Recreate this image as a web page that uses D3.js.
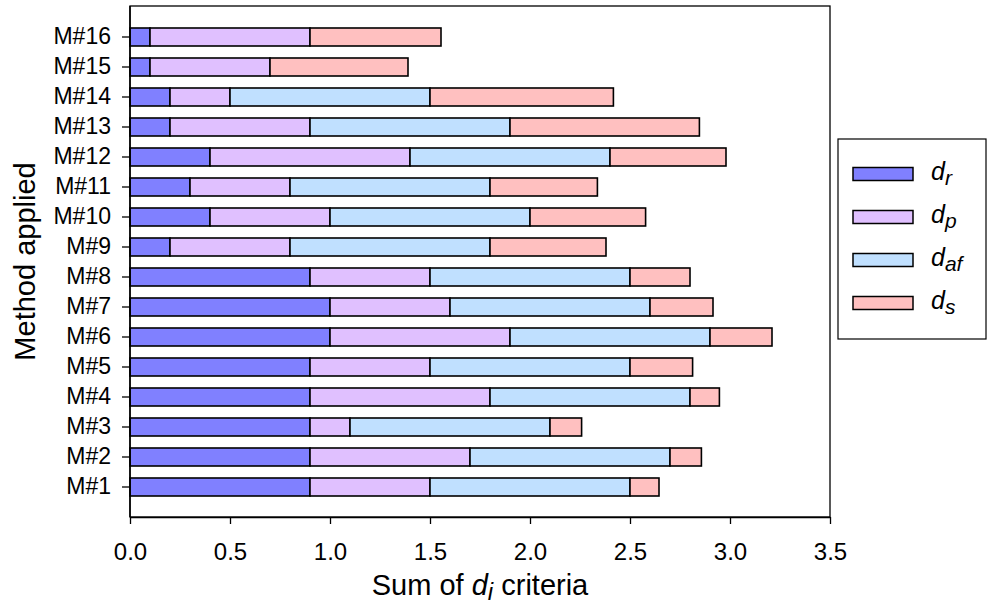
<!DOCTYPE html>
<html>
<head>
<meta charset="utf-8">
<script src="https://cdn.jsdelivr.net/npm/d3@7"></script>
<style>
  body { margin: 0; background: #fff; }
  text { font-family: "Liberation Sans", Arial, sans-serif; fill: #000; }
</style>
</head>
<body>
<div class="chart"></div>
<script>
// methods, bottom to top as in the picture
var methods = ["M#1","M#2","M#3","M#4","M#5","M#6","M#7","M#8",
               "M#9","M#10","M#11","M#12","M#13","M#14","M#15","M#16"];

var dr  = [0.9, 0.9, 0.9, 0.9, 0.9, 1.0, 1.0, 0.9, 0.2, 0.4, 0.3, 0.4, 0.2, 0.2, 0.1, 0.1];
var dp  = [0.6, 0.8, 0.2, 0.9, 0.6, 0.9, 0.6, 0.6, 0.6, 0.6, 0.5, 1.0, 0.7, 0.3, 0.6, 0.8];
var daf = [1.0, 1.0, 1.0, 1.0, 1.0, 1.0, 1.0, 1.0, 1.0, 1.0, 1.0, 1.0, 1.0, 1.0, 0.0, 0.0];
var ds  = [0.145, 0.157, 0.158, 0.147, 0.313, 0.31, 0.315, 0.3, 0.58, 0.578, 0.537, 0.58, 0.947, 0.917, 0.69, 0.655];

var seriesKeys = ["dr", "dp", "daf", "ds"];
var seriesSub  = ["r", "p", "af", "s"];
var xTicks = [0, 0.5, 1.0, 1.5, 2.0, 2.5, 3.0, 3.5];

var color = ["#8080FF", "#E0C0FF", "#C0E0FF", "#FFC0C0"];

var width = 987, height = 605;
var plotL = 130, plotR = 830, plotT = 6, plotB = 517;

var rows = methods.map(function(m, i) {
  return { name: m, dr: dr[i], dp: dp[i], daf: daf[i], ds: ds[i] };
});

var svg = d3.select(".chart").append("svg")
  .attr("width", width)
  .attr("height", height);

var x = d3.scaleLinear().domain([0, 3.5]).range([plotL, plotR]);
var y = d3.scaleBand().domain(methods.slice().reverse())
  .range([plotT + 16, plotB - 15]).paddingInner(0.4).paddingOuter(0.2);

var stack = d3.stack().keys(seriesKeys)(rows);

var layer = svg.selectAll("g.layer")
  .data(stack)
  .enter().append("g")
    .attr("class", "layer")
    .attr("fill", function(d, i) { return color[i]; });

layer.selectAll("rect")
  .data(function(d) { return d.filter(function(p) { return p[1] - p[0] > 0; }); })
  .enter().append("rect")
    .attr("x", function(d) { return x(d[0]); })
    .attr("y", function(d) { return y(d.data.name); })
    .attr("width", function(d) { return x(d[1]) - x(d[0]); })
    .attr("height", y.bandwidth())
    .attr("stroke", "#000")
    .attr("stroke-width", 1.6);

// frame
svg.append("rect")
  .attr("x", plotL).attr("y", plotT)
  .attr("width", plotR - plotL).attr("height", plotB - plotT)
  .attr("fill", "none").attr("stroke", "#000").attr("stroke-width", 1.3);

// x axis
var xAxis = svg.append("g")
  .attr("transform", "translate(0," + plotB + ")")
  .call(d3.axisBottom(x).tickValues(xTicks).tickSize(7).tickSizeOuter(0).tickPadding(19)
        .tickFormat(d3.format(".1f")));
xAxis.select(".domain").attr("stroke-width", 1.5);
xAxis.selectAll(".tick line").attr("stroke-width", 1.3);
xAxis.selectAll("text").style("font-size", "24px").attr("fill", "#000");

// y axis
var yAxis = svg.append("g")
  .attr("transform", "translate(" + plotL + ",0)")
  .call(d3.axisLeft(y).tickSize(8).tickSizeOuter(0).tickPadding(11));
yAxis.select(".domain").remove();
yAxis.selectAll(".tick line").attr("stroke-width", 1.3);
yAxis.selectAll("text").style("font-size", "23px").attr("fill", "#000");

svg.append("line")
  .attr("x1", plotL).attr("x2", plotL)
  .attr("y1", plotT).attr("y2", plotB)
  .attr("stroke", "#000").attr("stroke-width", 1.5);

// axis titles
var xt = svg.append("text")
  .attr("x", (plotL + plotR) / 2).attr("y", 595)
  .attr("text-anchor", "middle")
  .style("font-size", "29px");
xt.append("tspan").text("Sum of ");
xt.append("tspan").style("font-style", "italic").text("d");
xt.append("tspan").style("font-style", "italic").style("font-size", "24px")
  .attr("baseline-shift", "-20%").text("i");
xt.append("tspan").text(" criteria");

svg.append("text")
  .attr("transform", "translate(35," + (plotT + plotB) / 2 + ") rotate(-90)")
  .attr("text-anchor", "middle")
  .style("font-size", "29px")
  .text("Method applied");

// legend
var lg = svg.append("g");
lg.append("rect")
  .attr("x", 838).attr("y", 139)
  .attr("width", 148).attr("height", 200)
  .attr("fill", "#fff").attr("stroke", "#000").attr("stroke-width", 1.2);

var item = lg.selectAll("g.item")
  .data(seriesKeys)
  .enter().append("g")
    .attr("class", "item")
    .attr("transform", function(d, i) { return "translate(853," + (174 + i * 43) + ")"; });

item.append("rect")
  .attr("x", 0).attr("y", -6.5)
  .attr("width", 60).attr("height", 13)
  .attr("fill", function(d, i) { return color[i]; })
  .attr("stroke", "#000").attr("stroke-width", 1.5);

var lt = item.append("text")
  .attr("x", 78).attr("y", 6)
  .style("font-size", "25px")
  .style("font-style", "italic");
lt.append("tspan").text("d");
lt.append("tspan").style("font-size", "21px").attr("baseline-shift", "-25%")
  .text(function(d, i) { return seriesSub[i]; });
</script>
</body>
</html>
